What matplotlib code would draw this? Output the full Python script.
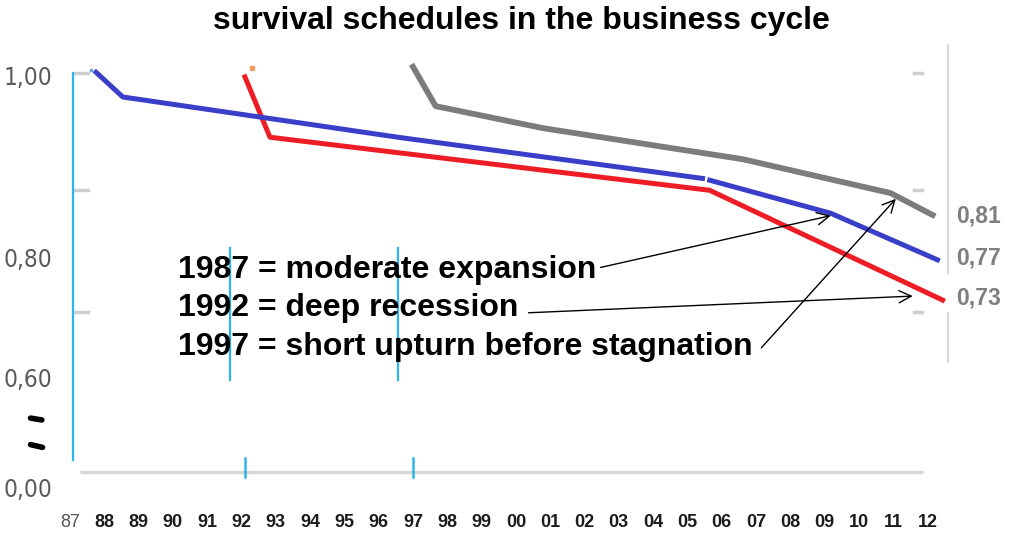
import matplotlib
matplotlib.use("Agg")
import matplotlib.pyplot as plt

plt.rcParams['font.family'] = ['Liberation Sans', 'DejaVu Sans']

# survival curves (year, share surviving)
blue_x = [1987.76, 1988.54, 1996.56, 2005.44]
blue_y = [1.003, 0.976, 0.932, 0.887]
blue2_x = [2005.65, 2009.17, 2012.29]
blue2_y = [0.885, 0.849, 0.798]

red_x = [1992.10, 1992.83, 2005.65, 2012.44]
red_y = [0.998, 0.932, 0.874, 0.754]

gray_x = [1997.00, 1997.66, 1998.31, 2000.78, 2006.61, 2010.92, 2012.15]
gray_y = [1.009, 0.966, 0.961, 0.942, 0.908, 0.871, 0.847]

years = list(range(1987, 2013))
year_labels = ["%02d" % (y % 100) for y in years]

ytick_pos = [1.0, 0.8, 0.669, 0.549]
ytick_labels = ["1,00", "0,80", "0,60", "0,00"]

end_labels = ["0,81", "0,77", "0,73"]
end_label_y = [0.846, 0.800, 0.756]

notes = ["1987 = moderate expansion",
         "1992 = deep recession",
         "1997 = short upturn before stagnation"]
note_y = [0.787, 0.745, 0.703]

fig = plt.figure(figsize=(10.22, 5.36), dpi=100)
ax = fig.add_axes([0.0538, 0.0672, 0.8806, 0.8582])
ax.set_xlim(1986.563, 2012.80)
ax.set_ylim(0.5355, 1.0383)
for s in ax.spines.values():
    s.set_visible(False)

cyan = "#2cb4ee"
light = "#cfcfcf"

# baseline and little grey ticks
ax.plot([1987.29, 2011.86], [0.566, 0.566], color="#d6d6d6", lw=2.5, solid_capstyle="butt")
for v in [1.002, 0.874, 0.741]:
    ax.plot([1987.15, 1987.52], [v, v], color=light, lw=2.5)
    ax.plot([2011.62, 2011.85], [v, v], color=light, lw=2.5)
ax.plot([2012.61, 2012.61], [1.033, 0.784], color="#d8d8d8", lw=1.5, clip_on=False)
ax.plot([2012.61, 2012.61], [0.740, 0.686], color="#d8d8d8", lw=1.5, clip_on=False)

# cyan bars
ax.plot([1987.09, 1987.09], [1.002, 0.579], color=cyan, lw=1.6)
ax.plot([1991.66, 1991.66], [0.811, 0.667], color=cyan, lw=1.6)
ax.plot([1996.56, 1996.56], [0.811, 0.667], color=cyan, lw=1.6)
ax.plot([1992.10, 1992.10], [0.581, 0.561], color=cyan, lw=1.8)
ax.plot([1997.00, 1997.00], [0.581, 0.561], color=cyan, lw=1.8)

# broken axis marks
ax.plot([1985.85, 1986.18], [0.625, 0.623], color="black", lw=4, clip_on=False,
        solid_capstyle="round")
ax.plot([1985.85, 1986.20], [0.596, 0.593], color="black", lw=4, clip_on=False,
        solid_capstyle="round")

ax.plot(gray_x, gray_y, color="#7c7c7c", lw=4.2, clip_on=False)
ax.plot(red_x, red_y, color="#ee1d25", lw=3.6, clip_on=False)
ax.plot(blue_x, blue_y, color="#3a3fc9", lw=3.6, clip_on=False)
ax.plot(blue2_x, blue2_y, color="#3a3fc9", lw=3.6, clip_on=False)
ax.plot([1987.60], [1.006], marker="s", ms=2, color="#6aa0e0")
ax.plot([1992.30], [1.008], marker="s", ms=2.5, color="#f0a060")

for lab, v in zip(end_labels, end_label_y):
    ax.text(2012.84, v, lab, color="#7f7f7f", fontsize=16.5, fontweight="bold",
            va="center", ha="left", clip_on=False)

for t, v in zip(notes, note_y):
    ax.text(1990.15, v, t, color="black", fontsize=23, fontweight="bold",
            va="center", ha="left")

arr = dict(arrowstyle="->", lw=1.0, color="black", mutation_scale=22)
ax.annotate("", xy=(2009.26, 0.847), xytext=(2002.39, 0.789), arrowprops=arr)
ax.annotate("", xy=(2011.65, 0.7585), xytext=(2000.29, 0.740), arrowprops=arr)
ax.annotate("", xy=(2011.13, 0.867), xytext=(2007.10, 0.6995), arrowprops=arr)

ax.set_xticks(years)
ax.set_xticklabels(year_labels, fontsize=13, fontweight="bold", color="#1c1c1c")
first = ax.get_xticklabels()[0]
first.set_fontweight("normal")
first.set_color("#555555")
ax.tick_params(axis="x", length=0, pad=10)

ax.set_yticks(ytick_pos)
ax.set_yticklabels(ytick_labels, fontsize=17.5, color="#5a5a5a",
                   family="DejaVu Sans", fontstretch="condensed")
ax.tick_params(axis="y", length=0, pad=2)

fig.text(0.51, 1 - 21 / 536, "survival schedules in the business cycle",
         ha="center", va="center", fontsize=23, fontweight="bold")

fig.savefig("out.png", dpi=100)
